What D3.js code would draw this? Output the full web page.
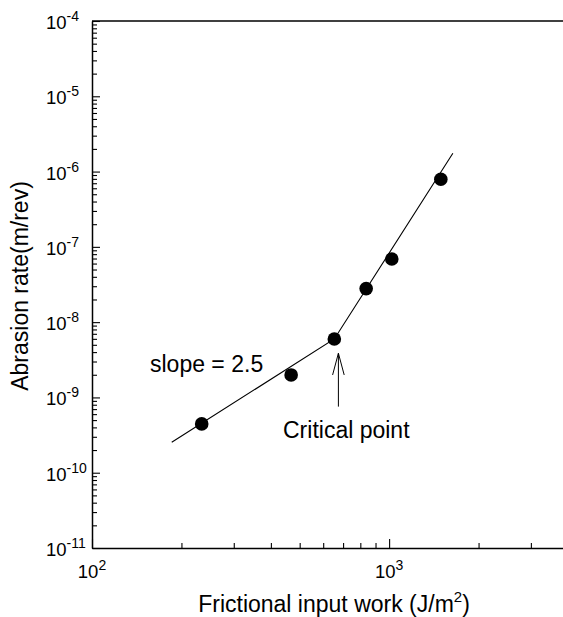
<!DOCTYPE html>
<html>
<head>
<meta charset="utf-8">
<script src="https://cdn.jsdelivr.net/npm/d3@7"></script>
<style>
  html, body { margin: 0; padding: 0; background: #fff; }
  svg { display: block; }
  text { font-family: "Liberation Sans", Arial, Helvetica, sans-serif; fill: #000; }
</style>
</head>
<body>
<svg id="chart" width="563" height="617"></svg>
<script>
// ---- data ----
const workX = [234, 468, 654, 837, 1021, 1493];            // J/m^2
const rateY = [4.45e-10, 1.99e-9, 5.98e-9, 2.79e-8, 6.9e-8, 7.9e-7]; // m/rev
const fitX = [185.5, 654, 1639];
const fitY = [2.54e-10, 5.98e-9, 1.75e-6];
const xMajorTicks = [100, 1000];
const xTickExp = ["2", "3"];
const xMinorTicks = [200, 300, 400, 500, 600, 700, 800, 900, 2000, 3000];
const yMajorTicks = [1e-11, 1e-10, 1e-9, 1e-8, 1e-7, 1e-6, 1e-5, 1e-4];
const yTickExp = ["-11", "-10", "-9", "-8", "-7", "-6", "-5", "-4"];
const arrowX = [675, 675];
const arrowY = [7.55e-10, 3.86e-9];
const slopeLabel = "slope = 2.5";
const criticalLabel = "Critical point";
const xTitle = "Frictional input work (J/m";
const yTitle = "Abrasion rate(m/rev)";

// ---- layout ----
const svg = d3.select("#chart");
const pLeft = 92, pRight = 568, pTop = 21, pBottom = 548;
const x = d3.scaleLog().domain([100, 4000]).range([pLeft, pRight]);
const y = d3.scaleLog().domain([1e-11, 1e-4]).range([pBottom, pTop]);

const yMinorTicks = [];
for (let e = -11; e < -4; e++) for (let m = 2; m <= 9; m++) yMinorTicks.push(m * Math.pow(10, e));

// frame top line
svg.append("line").attr("x1", pLeft).attr("x2", pRight).attr("y1", pTop).attr("y2", pTop)
  .attr("stroke", "#000").attr("stroke-width", 1.3);

// x axis
const gx = svg.append("g").attr("transform", `translate(0,${pBottom})`);
gx.call(d3.axisBottom(x).tickValues(xMajorTicks).tickSize(-9).tickSizeOuter(0).tickFormat(""));
gx.call(g => g.select(".domain").attr("stroke-width", 1.5));
const gxm = svg.append("g").attr("transform", `translate(0,${pBottom})`);
gxm.call(d3.axisBottom(x).tickValues(xMinorTicks).tickSize(-5).tickSizeOuter(0).tickFormat(""));
gxm.select(".domain").remove();

// y axis
const gy = svg.append("g").attr("transform", `translate(${pLeft},0)`);
gy.call(d3.axisLeft(y).tickValues(yMajorTicks).tickSize(-8).tickSizeOuter(0).tickFormat(""));
gy.call(g => g.select(".domain").attr("stroke-width", 1.5));
const gym = svg.append("g").attr("transform", `translate(${pLeft},0)`);
gym.call(d3.axisLeft(y).tickValues(yMinorTicks).tickSize(-5).tickSizeOuter(0).tickFormat(""));
gym.select(".domain").remove();

svg.selectAll(".tick line").attr("stroke", "#000").attr("stroke-width", 1.1);

// x tick labels
xMajorTicks.forEach((v, i) => {
  const t = svg.append("text").attr("x", x(v)).attr("y", pBottom + 30)
    .attr("text-anchor", "middle").attr("font-size", 18.5);
  t.append("tspan").text("10");
  t.append("tspan").attr("font-size", 14).attr("dy", -8).text(xTickExp[i]);
});

// y tick labels (left-aligned column)
yMajorTicks.forEach((v, i) => {
  const t = svg.append("text").attr("x", pLeft - 46).attr("y", y(v) + 8)
    .attr("text-anchor", "start").attr("font-size", 18.5);
  t.append("tspan").text("10");
  t.append("tspan").attr("font-size", 14).attr("dy", -8).text(yTickExp[i]);
});

// axis titles
const xt = svg.append("text").attr("x", 334).attr("y", 612).attr("text-anchor", "middle").attr("font-size", 23);
xt.append("tspan").text(xTitle);
xt.append("tspan").attr("font-size", 15).attr("dy", -10).text("2");
xt.append("tspan").attr("dy", 10).text(")");

svg.append("text").attr("transform", "translate(28,286) rotate(-90)")
  .attr("text-anchor", "middle").attr("font-size", 23).text(yTitle);

// fit line
const line = d3.line().x((d, i) => x(fitX[i])).y((d, i) => y(fitY[i]));
svg.append("path").datum(fitX).attr("d", line).attr("fill", "none")
  .attr("stroke", "#000").attr("stroke-width", 1.1);

// points
svg.append("g").selectAll("circle").data(workX).join("circle")
  .attr("cx", d => x(d)).attr("cy", (d, i) => y(rateY[i])).attr("r", 6.8).attr("fill", "#000");

// arrow
const ax = x(arrowX[0]), ay0 = y(arrowY[0]), ay1 = y(arrowY[1]);
svg.append("line").attr("x1", ax).attr("x2", ax).attr("y1", ay0).attr("y2", ay1)
  .attr("stroke", "#000").attr("stroke-width", 1);
svg.append("path").attr("d", `M${ax - 5.8},${ay1 + 21.7}L${ax},${ay1}L${ax + 5.8},${ay1 + 21.7}`)
  .attr("fill", "none").attr("stroke", "#000").attr("stroke-width", 1);

// annotations
svg.append("text").attr("x", 150).attr("y", 371.5).attr("font-size", 23).text(slopeLabel);
svg.append("text").attr("x", 283).attr("y", 437.5).attr("font-size", 23).text(criticalLabel);
</script>
</body>
</html>
